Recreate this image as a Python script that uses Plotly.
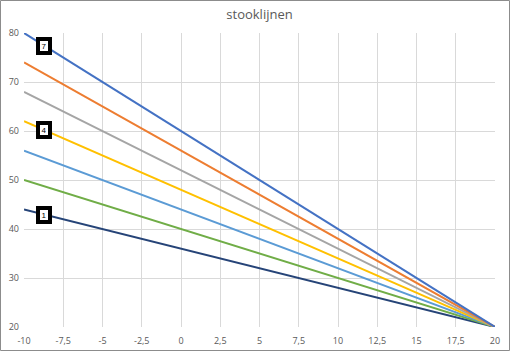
import plotly.graph_objects as go

x_points = [-10, 20]
series_names = ["1", "2", "3", "4", "5", "6", "7"]
start_values = [44, 50, 56, 62, 68, 74, 80]
end_values = [20, 20, 20, 20, 20, 20, 20]
colors = ["#264478", "#70AD47", "#5B9BD5", "#FFC000", "#A5A5A5", "#ED7D31", "#4472C4"]
labelled = ["1", "4", "7"]
label_x = -8.7

x_ticks = [-10, -7.5, -5, -2.5, 0, 2.5, 5, 7.5, 10, 12.5, 15, 17.5, 20]
x_ticktext = ["-10", "-7,5", "-5", "-2,5", "0", "2,5", "5", "7,5", "10", "12,5", "15", "17,5", "20"]
y_ticks = [20, 30, 40, 50, 60, 70, 80]

fig = go.Figure()
for name, y0, y1, c in zip(series_names, start_values, end_values, colors):
    fig.add_trace(go.Scatter(x=x_points, y=[y0, y1], mode="lines", name=name,
                             line=dict(color=c, width=2), showlegend=False))
    if name in labelled:
        ly = y0 + (y1 - y0) * (label_x - x_points[0]) / (x_points[1] - x_points[0])
        fig.add_annotation(x=label_x, y=ly, text=name, showarrow=False,
                           font=dict(size=8, color="#000000", family="Liberation Sans"),
                           width=8, height=10, align="center", valign="middle",
                           bgcolor="white", bordercolor="black", borderwidth=4, borderpad=0)

W, H = 510, 351
L, R, T, B = 24, 15, 33, 24
pw, ph = W - L - R, H - T - B

fig.add_shape(type="rect", xref="paper", yref="paper",
              x0=(0.5 - L) / pw, x1=(W - 0.5 - L) / pw,
              y0=(H - B - (H - 0.5)) / ph, y1=(H - B - 0.5) / ph,
              line=dict(color="#8c8c8c", width=1), layer="above")

fig.update_layout(
    width=W, height=H,
    margin=dict(l=L, r=R, t=T, b=B),
    paper_bgcolor="white", plot_bgcolor="white",
    title=dict(text="stooklijnen", x=0.5, xref="paper", xanchor="center", y=1 - 14 / H, yanchor="middle",
               font=dict(size=13, color="#595959", family="Open Sans")),
    font=dict(family="Open Sans", size=9, color="#595959"),
    xaxis=dict(range=[-10, 20], tickvals=x_ticks, ticktext=x_ticktext, showgrid=True,
               gridcolor="#D9D9D9", gridwidth=1, zeroline=False, showline=False, automargin=False,
               ticks="", ticklabelstandoff=7, tickfont=dict(size=9, color="#595959")),
    yaxis=dict(range=[20, 80], tickvals=y_ticks, showgrid=True, gridcolor="#D9D9D9",
               gridwidth=1, zeroline=False, showline=False, ticks="", ticklabelstandoff=4,
               automargin=False, tickfont=dict(size=9, color="#595959")),
)

fig.write_html("out.html")
